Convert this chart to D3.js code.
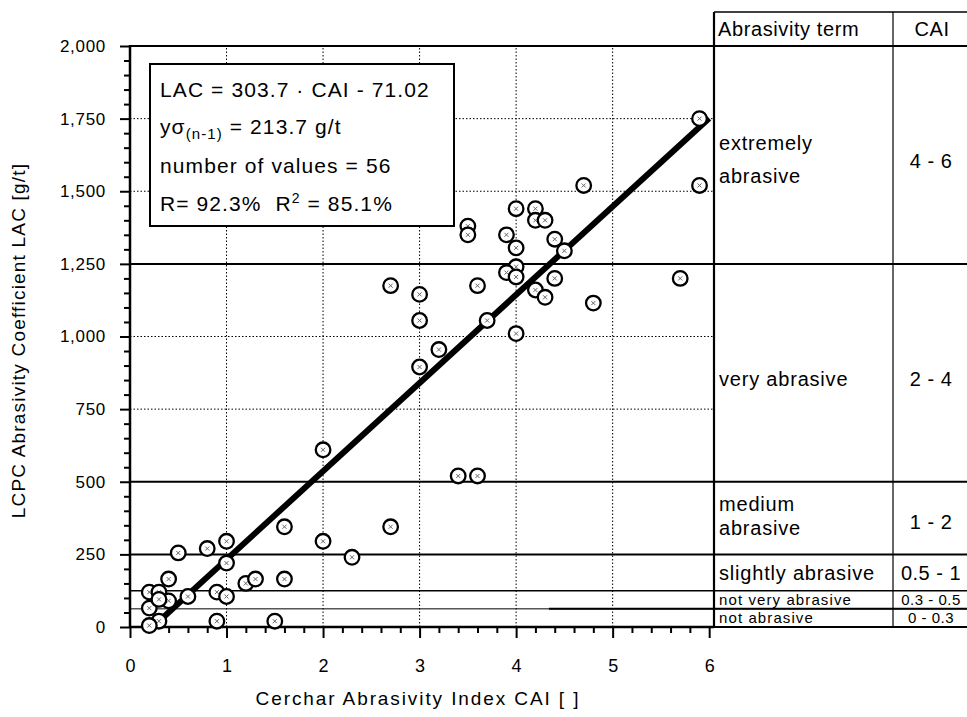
<!DOCTYPE html>
<html><head><meta charset="utf-8">
<script src="https://cdn.jsdelivr.net/npm/d3@7"></script>
<style>
body{margin:0;background:#fff}
text{font-family:"Liberation Sans",Arial,sans-serif;fill:#000}
</style>
</head><body>
<svg id="chart" width="967" height="717"></svg>
<script>
// ---- data ----
const cai = [5.9,5.9,4.7,4.0,4.2,3.5,3.5,4.2,4.3,3.9,4.4,4.0,4.5,4.0,3.9,4.0,4.4,5.7,2.7,3.6,4.2,4.3,4.8,3.0,3.0,3.7,4.0,3.2,3.0,3.4,3.6,2.7,2.0,1.6,1.0,0.5,0.8,2.0,2.3,1.0,0.4,1.2,1.3,1.6,0.2,0.3,0.9,0.6,0.4,1.0,0.2,0.3,0.2,0.9,1.5,0.3];
const lac = [1750,1520,1520,1440,1440,1380,1350,1400,1400,1350,1335,1305,1295,1240,1220,1205,1200,1200,1175,1175,1160,1135,1115,1145,1055,1055,1010,955,895,520,520,345,610,345,295,255,270,295,240,220,165,150,165,165,120,120,120,105,90,105,65,20,5,20,20,95];
const xTickValues = [0,1,2,3,4,5,6];
const yTickValues = [0,250,500,750,1000,1250,1500,1750,2000];
const gridX = [1,2,3,4,5];
const gridY = [750,1000,1500,1750];
const classBounds = [2000,1250,500,250,125,62.5,0];
const classTerms = [["extremely","abrasive"],["very abrasive"],["medium","abrasive"],["slightly abrasive"],["not very abrasive"],["not abrasive"]];
const classCAI = ["4 - 6","2 - 4","1 - 2","0.5 - 1","0.3 - 0.5","0 - 0.3"];
const fitSlope = 303.7, fitIntercept = -71.02;
const fitRange = [0.3, 6.0];
const tableHeader = ["Abrasivity term","CAI"];

// ---- layout ----
const svg = d3.select("#chart");
const x = d3.scaleLinear().domain([0,6.05]).range([130,714]);
const y = d3.scaleLinear().domain([0,2000]).range([627,46]);
const X0 = x(0), XR = x(6.05), RIGHT = 967, COL2 = 893, HEADTOP = 12;

svg.append("rect").attr("width",967).attr("height",717).attr("fill","#fff");

// grid (dotted)
const g = svg.append("g");
g.selectAll(".gx").data(gridX).join("line")
  .attr("x1",d=>x(d)).attr("x2",d=>x(d)).attr("y1",y(0)).attr("y2",y(2000))
  .attr("stroke","#000").attr("stroke-width",1).attr("stroke-dasharray","1.5,2");
g.selectAll(".gy").data(gridY).join("line")
  .attr("x1",X0).attr("x2",XR).attr("y1",d=>y(d)).attr("y2",d=>y(d))
  .attr("stroke","#000").attr("stroke-width",1).attr("stroke-dasharray","1.5,2");

// class boundary lines (solid)
const inner = classBounds.slice(1,-1);
g.selectAll(".cb").data(inner).join("line")
  .attr("x1",X0).attr("x2",RIGHT).attr("y1",d=>y(d)).attr("y2",d=>y(d))
  .attr("stroke","#000").attr("stroke-width",(d,i)=> i<3 ? 2 : (i===3?1.6:1));
g.append("line").attr("x1",x(4.34)).attr("x2",RIGHT)
  .attr("y1",y(62.5)).attr("y2",y(62.5)).attr("stroke","#000").attr("stroke-width",2);

// frame top / bottom
g.append("line").attr("x1",X0).attr("x2",RIGHT).attr("y1",y(2000)).attr("y2",y(2000)).attr("stroke","#000").attr("stroke-width",2);
g.append("line").attr("x1",X0).attr("x2",RIGHT).attr("y1",y(0)).attr("y2",y(0)).attr("stroke","#000").attr("stroke-width",2);
// table
g.append("line").attr("x1",XR).attr("x2",RIGHT).attr("y1",HEADTOP).attr("y2",HEADTOP).attr("stroke","#000").attr("stroke-width",1.6);
g.append("line").attr("x1",XR).attr("x2",XR).attr("y1",HEADTOP).attr("y2",y(0)).attr("stroke","#000").attr("stroke-width",2.2);
g.append("line").attr("x1",COL2).attr("x2",COL2).attr("y1",HEADTOP).attr("y2",y(0)).attr("stroke","#000").attr("stroke-width",1.2);

// axes
const fmt = d3.format(",");
const yMinor = d3.range(0,2001,50).filter(v=>v%250!==0);
const xMinor = d3.range(0,31).map(i=>i*0.2).filter(v=>Math.abs(v-Math.round(v))>1e-6);
svg.append("g").attr("class","ya").attr("transform",`translate(${X0},0)`)
  .call(d3.axisLeft(y).tickValues(yTickValues).tickSize(10).tickPadding(14).tickFormat(fmt).tickSizeOuter(0));
svg.append("g").attr("transform",`translate(${X0},0)`)
  .call(d3.axisLeft(y).tickValues(yMinor).tickSize(6).tickFormat("").tickSizeOuter(0));
svg.append("g").attr("class","xa").attr("transform",`translate(0,${y(0)})`)
  .call(d3.axisBottom(x).tickValues(xTickValues).tickSize(11).tickPadding(21).tickFormat(d3.format("d")).tickSizeOuter(0));
svg.append("g").attr("transform",`translate(0,${y(0)})`)
  .call(d3.axisBottom(x).tickValues(xMinor).tickSize(6).tickFormat("").tickSizeOuter(0));
svg.selectAll(".domain").remove();
svg.selectAll(".tick line").attr("stroke","#000").attr("stroke-width",2);
svg.selectAll(".tick text").attr("font-family","Liberation Sans, Arial, sans-serif");
svg.selectAll(".ya .tick text").attr("font-size",17).attr("letter-spacing",0.7);
svg.selectAll(".xa .tick text").attr("font-size",18);
svg.append("line").attr("x1",X0).attr("x2",X0).attr("y1",y(2000)-1).attr("y2",y(0)+1).attr("stroke","#000").attr("stroke-width",2.5);
svg.append("line").attr("x1",X0).attr("x2",XR).attr("y1",y(0)).attr("y2",y(0)).attr("stroke","#000").attr("stroke-width",2.5);

// axis titles
svg.append("text").attr("x",(X0+XR)/2-4).attr("y",705).attr("text-anchor","middle")
  .attr("font-size",19).attr("letter-spacing",1.9).text("Cerchar Abrasivity Index CAI [ ]");
svg.append("text").attr("transform",`translate(25,${(y(0)+y(2000))/2+4}) rotate(-90)`).attr("text-anchor","middle")
  .attr("font-size",19).attr("letter-spacing",1.2).text("LCPC Abrasivity Coefficient LAC [g/t]");

// regression line
const fitPts = fitRange.map(c=>[c, fitSlope*c+fitIntercept]);
svg.append("path").datum(fitPts)
  .attr("d",d3.line().x(d=>x(d[0])).y(d=>y(d[1])))
  .attr("stroke","#000").attr("stroke-width",6).attr("fill","none");

// points
const pts = cai.map((c,i)=>({c, l:lac[i]}));
const pg = svg.append("g").selectAll("g").data(pts).join("g")
  .attr("transform",d=>`translate(${x(d.c)},${y(d.l)})`);
pg.append("circle").attr("r",7.3).attr("fill","#fff").attr("stroke","#000").attr("stroke-width",2.3);
pg.append("path").attr("d","M-2,-2L2,2M-2,2L2,-2").attr("stroke","#666").attr("stroke-width",1);

// legend box
const lg = svg.append("g");
lg.append("rect").attr("x",150).attr("y",64).attr("width",304).attr("height",162)
  .attr("fill","#fff").attr("stroke","#000").attr("stroke-width",2);
const ls = {"font-size":21,"letter-spacing":1.1};
function lt(yy){ const t = lg.append("text").attr("x",160).attr("y",yy); for(const k in ls) t.attr(k,ls[k]); return t; }
lt(97).text(`LAC = ${fitSlope} · CAI - ${Math.abs(fitIntercept).toFixed(2)}`);
const t2 = lt(134);
t2.append("tspan").text("yσ");
t2.append("tspan").attr("font-size",15).attr("dy",5).text("(n-1)");
t2.append("tspan").attr("dy",-5).text("\u00A0= 213.7 g/t");
lt(173).text("number of values = 56");
const t4 = lt(211);
t4.append("tspan").text("R= 92.3%\u00A0\u00A0R");
t4.append("tspan").attr("font-size",14).attr("dy",-8).text("2");
t4.append("tspan").attr("dy",8).text("\u00A0= 85.1%");

// table text
const tt = svg.append("g");
tt.append("text").attr("x",718).attr("y",36).attr("font-size",20).attr("letter-spacing",0.6).text(tableHeader[0]);
tt.append("text").attr("x",(COL2+RIGHT)/2+2).attr("y",36).attr("text-anchor","middle").attr("font-size",20).attr("letter-spacing",0.6).text(tableHeader[1]);
classTerms.forEach((lines,i)=>{
  const top = y(classBounds[i]), bot = y(classBounds[i+1]);
  const small = i>=4;
  const mid = (top+bot)/2 + (small ? 0 : (i===2 ? -2 : (i<2 ? 6 : 0)));
  const fs = small ? 15 : 20;
  const lh = i===2 ? 24 : 33;
  lines.forEach((s,j)=>{
    const off = (j-(lines.length-1)/2)*lh - (i===0?2:0);
    tt.append("text").attr("x",719).attr("y",mid+off).attr("dy","0.36em")
      .attr("font-size",fs).attr("letter-spacing",small?1.1:0.8).text(s);
  });
  tt.append("text").attr("x",(COL2+RIGHT)/2+1).attr("y",mid+(i===2?6:0)).attr("dy","0.36em").attr("text-anchor","middle")
    .attr("font-size",small?15:20).attr("letter-spacing",0.5).text(classCAI[i]);
});
</script>
</body></html>
